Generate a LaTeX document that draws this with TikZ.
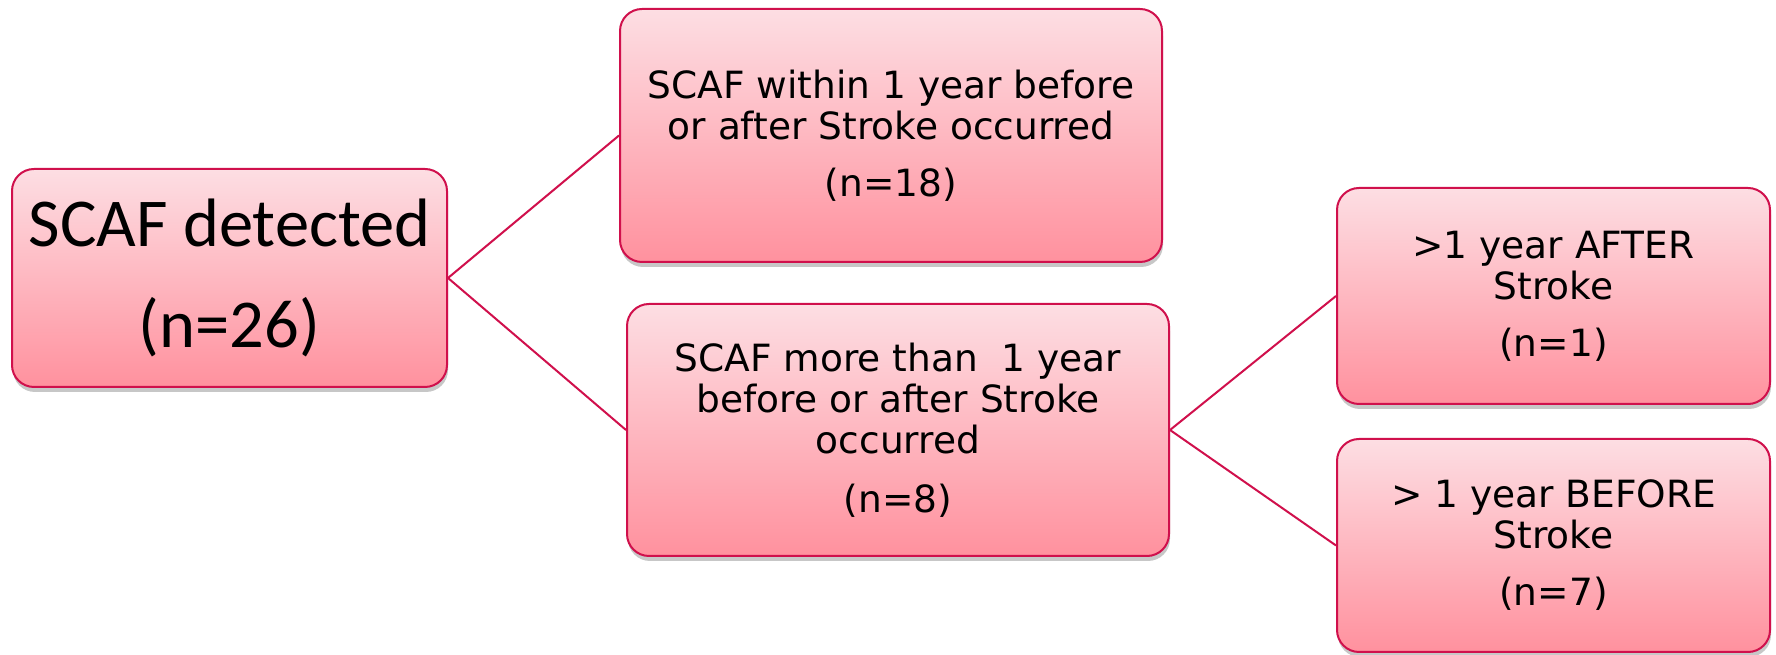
\documentclass[tikz,border=0pt]{standalone}
\usepackage{fontspec}
\setmainfont{DejaVu Sans}
\newfontfamily\bigfont{Carlito}
\usetikzlibrary{shadows}
\definecolor{edgec}{RGB}{208,16,76}
\definecolor{topc}{RGB}{253,222,227}
\definecolor{botc}{RGB}{255,145,158}
\tikzset{
  box/.style={draw=edgec, line width=2pt, rounded corners=22pt, top color=topc, bottom color=botc,
    align=center, inner sep=0pt,
    drop shadow={opacity=0.4, shadow xshift=1pt, shadow yshift=-5pt, fill=black!55}},
  link/.style={draw=edgec, line width=2pt},
  smalltext/.style={font=\fontsize{37.5}{41}\selectfont},
  bigtext/.style={font=\bigfont\fontsize{68.5}{101}\selectfont}
}
\begin{document}
\begin{tikzpicture}[x=1pt,y=1pt]
\useasboundingbox (0,0) rectangle (1776,655);
\node[box, bigtext, minimum width=435pt, minimum height=218pt] (A) at (229.5,377) {SCAF detected\\(n=26)};
\node[box, smalltext, minimum width=542pt, minimum height=253pt] (B) at (891,519.5) {SCAF within 1 year before\\or after Stroke occurred\\[16pt](n=18)};
\node[box, smalltext, minimum width=542pt, minimum height=252pt] (C) at (898,225) {SCAF more than\ \ 1 year\\before or after Stroke\\occurred\\[18pt](n=8)};
\node[box, smalltext, minimum width=433pt, minimum height=216pt] (D) at (1553.5,359) {>1 year AFTER\\Stroke\\[16pt](n=1)};
\node[box, smalltext, minimum width=433pt, minimum height=213pt] (E) at (1553.5,109.5) {> 1 year BEFORE\\Stroke\\[16pt](n=7)};
\draw[link] (A.east) -- (B.west);
\draw[link] (A.east) -- (C.west);
\draw[link] (C.east) -- (D.west);
\draw[link] (C.east) -- (E.west);
\end{tikzpicture}
\end{document}
